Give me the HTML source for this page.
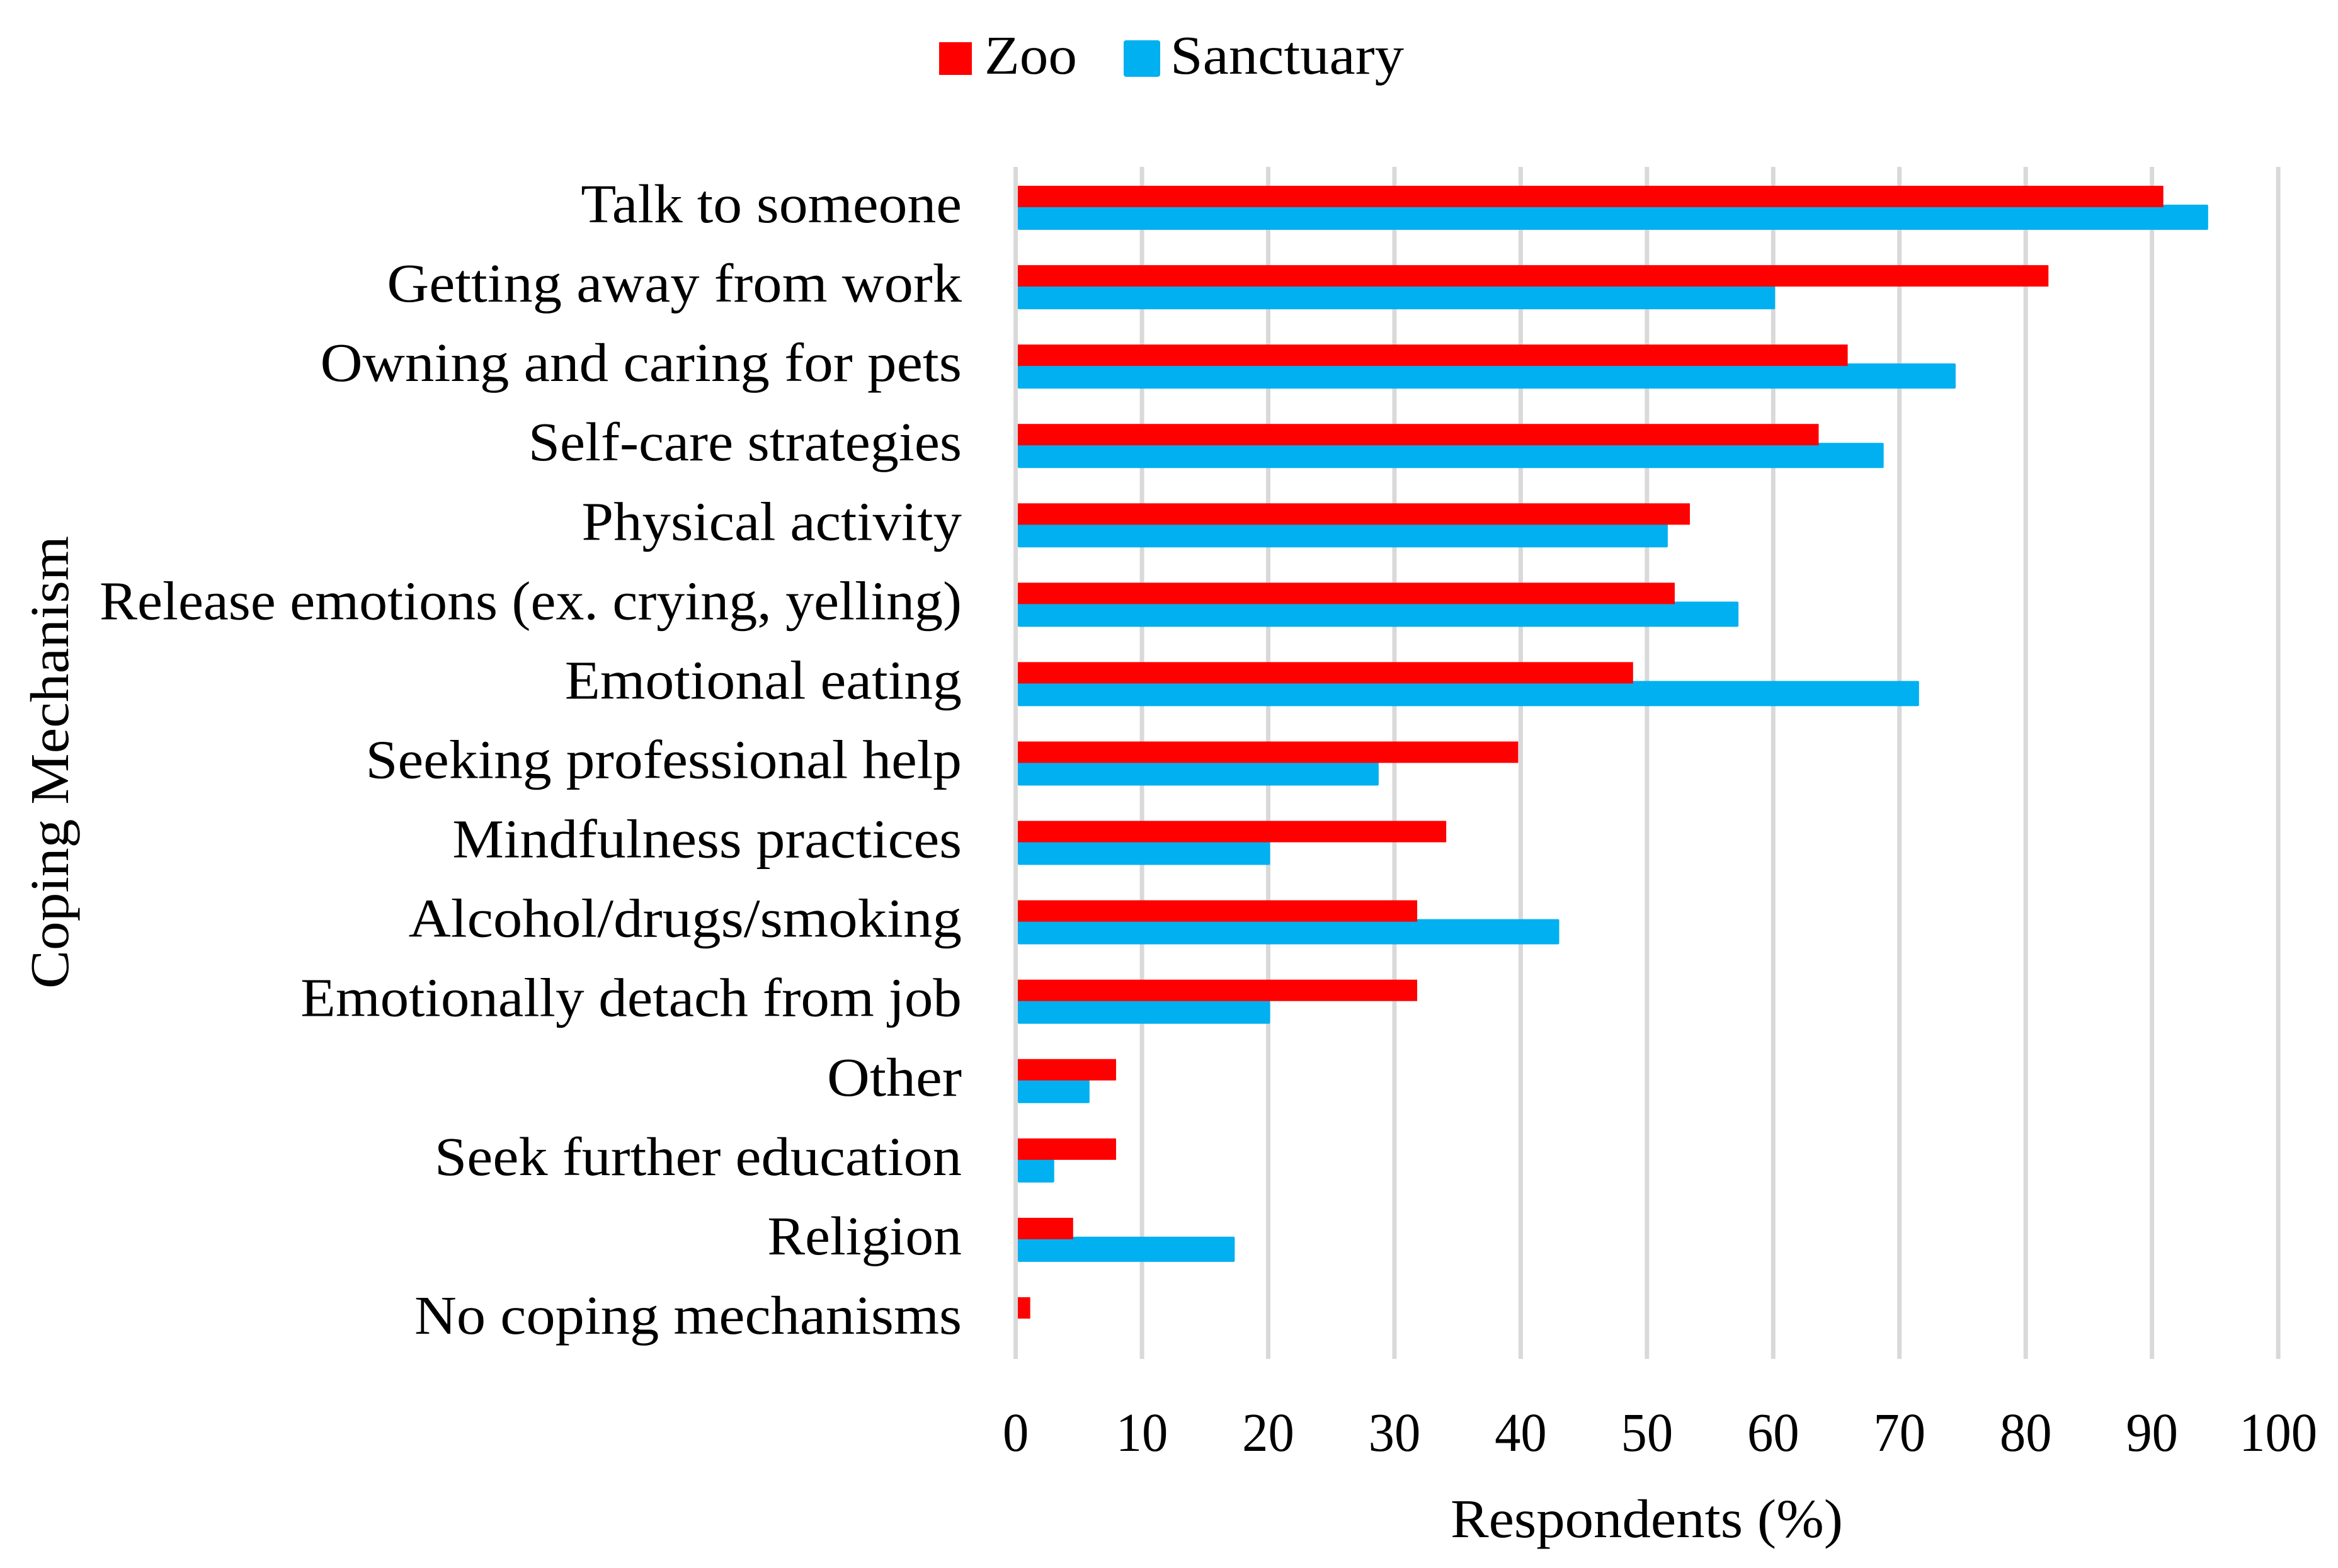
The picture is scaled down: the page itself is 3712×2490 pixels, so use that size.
<!DOCTYPE html>
<html lang="en">
<head>
<meta charset="utf-8">
<title>Coping mechanisms chart</title>
<style>
html,body{margin:0;padding:0;background:#fff;}
svg{display:block;}
text{font-family:"Liberation Serif","Noto Serif CJK SC",serif;fill:#000;font-size:87px;}
</style>
</head>
<body>
<svg id="chart" xmlns="http://www.w3.org/2000/svg" width="3712" height="2490" viewBox="0 0 3712 2490">
  <rect x="0" y="0" width="3712" height="2490" fill="#ffffff"/>
  <g id="grid"></g>
  <g id="bars"></g>
  <g id="cats"></g>
  <g id="ticks"></g>
  <g>
    <rect x="1491" y="67" width="52" height="52" fill="#ff0000"/>
    <text x="1563" y="117" textLength="147" lengthAdjust="spacingAndGlyphs">Zoo</text>
    <rect x="1784" y="64" width="58" height="58" rx="4" fill="#00b0f0"/>
    <text x="1858" y="117" textLength="371" lengthAdjust="spacingAndGlyphs">Sanctuary</text>
  </g>
  <text x="2303" y="2441" textLength="623" lengthAdjust="spacingAndGlyphs">Respondents (%)</text>
  <text transform="translate(108,1570) rotate(-90)" x="0" y="0" textLength="719" lengthAdjust="spacingAndGlyphs">Coping Mechanism</text>
</svg>
<script>
const categories = ["Talk to someone","Getting away from work","Owning and caring for pets","Self-care strategies","Physical activity","Release emotions (ex. crying, yelling)","Emotional eating","Seeking professional help","Mindfulness practices","Alcohol/drugs/smoking","Emotionally detach from job","Other","Seek further education","Religion","No coping mechanisms"];
const zooValues = [90.9,81.8,65.9,63.6,53.4,52.2,48.9,39.8,34.1,31.8,31.8,7.95,7.95,4.55,1.15];
const sanctuaryValues = [94.3,60.0,74.3,68.6,51.5,57.1,71.4,28.6,20.0,42.9,20.0,5.7,2.9,17.2,0];
const xTickLabels = [0,10,20,30,40,50,60,70,80,90,100];

const NS = "http://www.w3.org/2000/svg";
const X0 = 1612.6, XUNIT = 20.045, BAR_LEFT = 1616;
const ROW0 = 329, PITCH = 126.07, GRID_TOP = 265, GRID_BOTTOM = 2158;
const xScale = function (v) { return X0 + v * XUNIT; };
const rowCenter = function (i) { return ROW0 + i * PITCH; };

/* Horizontal glyph-stretch per label: the reference typeface is wider than the installed serif. */
const labelStretch = [1.054,1.064,1.07,1.036,1.045,1.034,1.056,1.053,1.056,1.069,1.047,1.08,1.063,1.03,1.064];

const gridG = document.getElementById("grid");
const barsG = document.getElementById("bars");
const catsG = document.getElementById("cats");
const ticksG = document.getElementById("ticks");

xTickLabels.forEach(function (t) {
  const line = document.createElementNS(NS, "rect");
  line.setAttribute("x", xScale(t) - 3.5);
  line.setAttribute("y", GRID_TOP);
  line.setAttribute("width", 7);
  line.setAttribute("height", GRID_BOTTOM - GRID_TOP);
  line.setAttribute("fill", "#d9d9d9");
  
  
  gridG.appendChild(line);

  const tx = document.createElementNS(NS, "text");
  tx.textContent = String(t);
  tx.setAttribute("y", 2304);
  
  
  ticksG.appendChild(tx);
  const w = tx.getComputedTextLength() * 0.95;
  tx.setAttribute("x", xScale(t) - w / 2);
  tx.setAttribute("textLength", w);
  tx.setAttribute("lengthAdjust", "spacingAndGlyphs");
});

categories.forEach(function (c, i) {
  const cy = rowCenter(i);

  const sv = sanctuaryValues[i];
  if (sv > 0) {
    const b = document.createElementNS(NS, "rect");
    b.setAttribute("x", BAR_LEFT);
    b.setAttribute("y", cy - 4);
    b.setAttribute("width", xScale(sv) + 3 - BAR_LEFT);
    b.setAttribute("height", 40);
    b.setAttribute("rx", 2);
    b.setAttribute("fill", "#00b0f0");
    
    
    barsG.appendChild(b);
  }

  const r = document.createElementNS(NS, "rect");
  r.setAttribute("x", BAR_LEFT);
  r.setAttribute("y", cy - 34);
  r.setAttribute("width", xScale(zooValues[i]) - BAR_LEFT);
  r.setAttribute("height", 34);
  r.setAttribute("fill", "#ff0000");
  
  
  barsG.appendChild(r);

  const t = document.createElementNS(NS, "text");
  t.textContent = c;
  t.setAttribute("y", cy + 24);
  
  
  catsG.appendChild(t);
  const w = t.getComputedTextLength() * labelStretch[i];
  t.setAttribute("x", 1527 - w);
  t.setAttribute("textLength", w);
  t.setAttribute("lengthAdjust", "spacingAndGlyphs");
});
</script>
</body>
</html>
